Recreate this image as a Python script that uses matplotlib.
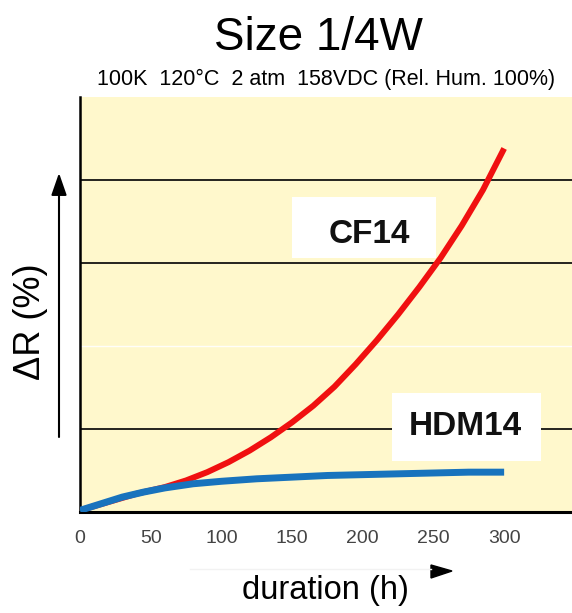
import matplotlib
matplotlib.use("Agg")
import matplotlib.pyplot as plt
from matplotlib.patches import Rectangle, FancyArrowPatch, Polygon
from matplotlib.lines import Line2D

hours_cf = [0, 20, 40, 60, 75, 90, 105, 120, 135, 150, 165, 180, 195, 210, 225, 240, 255, 270, 285, 300]
cf14 = [0.02, 0.12, 0.22, 0.30, 0.38, 0.48, 0.60, 0.74, 0.90, 1.08, 1.28, 1.51, 1.78, 2.07, 2.38, 2.71, 3.06, 3.45, 3.88, 4.38]
hours_hdm = [0, 15, 30, 45, 60, 80, 100, 125, 150, 175, 200, 225, 250, 275, 300]
hdm14 = [0.02, 0.10, 0.18, 0.24, 0.29, 0.34, 0.37, 0.40, 0.42, 0.44, 0.45, 0.46, 0.47, 0.48, 0.48]
xtick_vals = [0, 50, 100, 150, 200, 250, 300]
inner_ticks = [100, 150, 200, 250]
grid_black = [1, 3, 4]
grid_white = [2]

W, H = 572, 613
def fx(px):
    return px / W
def fy(py):
    return 1 - py / H

plt.rcParams['font.family'] = ['Liberation Sans', 'DejaVu Sans']
fig = plt.figure(figsize=(5.72, 6.13), dpi=100)
ax = fig.add_axes([fx(80), fy(512), 492 / W, 415 / H])
ax.set_facecolor('#fff8cc')
ax.set_xlim(0, 348)
ax.set_ylim(0, 5)
for g in grid_black:
    ax.axhline(g, color='black', lw=1.2, zorder=1)
for g in grid_white:
    ax.axhline(g, color='white', lw=1.0, alpha=0.9, zorder=1)

ax.plot(hours_cf, cf14, color='#f01010', lw=4.3, solid_capstyle='butt', solid_joinstyle='round', zorder=2)
ax.plot(hours_hdm, hdm14, color='#1873bd', lw=5, solid_capstyle='butt', solid_joinstyle='round', zorder=3)

# label boxes
ax.add_patch(Rectangle((150, 3.06), 102, 0.74, facecolor='white', edgecolor='none', zorder=4))
ax.text(204.4, 3.24, 'CF14', fontsize=24, fontweight='bold', ha='center', va='baseline', color='#111111', zorder=5)
ax.add_patch(Rectangle((221, 0.61), 105, 0.82, facecolor='white', edgecolor='none', zorder=4))
ax.text(272.3, 0.93, 'HDM14', fontsize=24, fontweight='bold', ha='center', va='baseline', color='#111111', zorder=5)

for s in ['top', 'right']:
    ax.spines[s].set_visible(False)
ax.spines['left'].set_linewidth(1.8)
ax.spines['bottom'].set_linewidth(2.2)
ax.set_yticks([])
ax.set_xticks(xtick_vals)
ax.set_xticklabels([str(v) for v in xtick_vals], color='#444444', fontsize=14)
ax.tick_params(axis='x', which='major', length=0, pad=13)
ax.set_xticks(inner_ticks, minor=True)
ax.tick_params(axis='x', which='minor', direction='in', length=7, width=1.5, color='black')

fig.text(fx(318), fy(50), 'Size 1/4W', fontsize=33, ha='center', va='baseline')
fig.text(fx(326), fy(85), '100K  120°C  2 atm  158VDC (Rel. Hum. 100%)', fontsize=15.5, ha='center', va='baseline')
fig.text(fx(31), fy(322), 'ΔR (%)', fontsize=26, rotation=90, ha='center', va='center')
fig.text(fx(325), fy(590), 'duration (h)', fontsize=23.5, ha='center', va='center')

fig.add_artist(FancyArrowPatch((fx(59), fy(437)), (fx(59), fy(173)), transform=fig.transFigure,
               arrowstyle='-|>,head_length=13.5,head_width=4.7', mutation_scale=1, lw=1.5,
               color='black', shrinkA=0, shrinkB=0))
fig.add_artist(Line2D([fx(190), fx(431)], [fy(569), fy(569)], transform=fig.transFigure, color='#f2f2f2', lw=1))
fig.add_artist(Polygon([[fx(431), fy(565)], [fx(452), fy(571)], [fx(431), fy(578)]],
               closed=True, transform=fig.transFigure, color='black'))

fig.savefig('out.png', dpi=100)
